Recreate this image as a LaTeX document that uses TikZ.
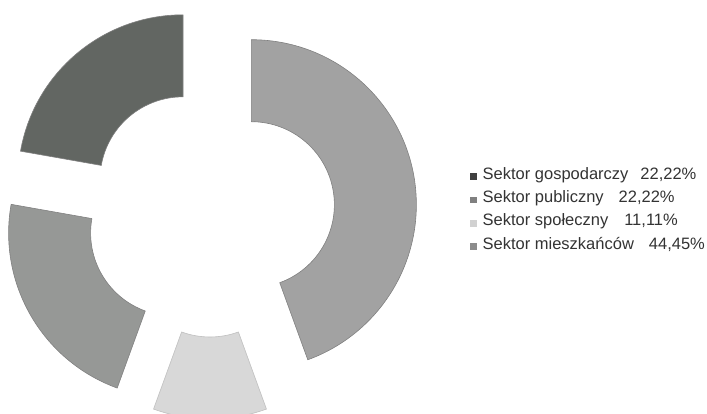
\documentclass[tikz,border=0pt]{standalone}
\usepackage{fontspec}
\setmainfont{Liberation Sans}
\usetikzlibrary{positioning}

\definecolor{gospodarczy}{RGB}{98,102,98}
\definecolor{publiczny}{RGB}{150,152,150}
\definecolor{spoleczny}{RGB}{216,216,216}
\definecolor{mieszkancow}{RGB}{162,162,162}

\begin{document}
\begin{tikzpicture}[x=1pt,y=1pt,
	seg/.style={draw=black!50,line width=0.6pt},
	key/.style={rectangle,inner sep=0pt,minimum size=6.5pt},
	lbl/.style={inner sep=0pt,font=\fontsize{16.5}{18}\selectfont,text=black!80,text height=0.73em,text depth=0.21em}
]
	\useasboundingbox (0,0) rectangle (707,414);

	% donut, every slice pushed out by 42 along its middle
	\begin{scope}[shift={(210,202)}]
		\draw[seg,fill=mieszkancow,shift={(10:42)}] (90:83) -- (90:165) arc[start angle=90,end angle=-70,radius=165] -- (-70:83) arc[start angle=-70,end angle=90,radius=83] -- cycle;
		\draw[seg,fill=spoleczny,draw=black!25,shift={(-90:42)}] (-70:83) -- (-70:165) arc[start angle=-70,end angle=-110,radius=165] -- (-110:83) arc[start angle=-110,end angle=-70,radius=83] -- cycle;
		\draw[seg,fill=publiczny,shift={(-150:42)}] (-110:83) -- (-110:165) arc[start angle=-110,end angle=-190,radius=165] -- (-190:83) arc[start angle=-190,end angle=-110,radius=83] -- cycle;
		\draw[seg,fill=gospodarczy,shift={(130:42)}] (170:83) -- (170:165) arc[start angle=170,end angle=90,radius=165] -- (90:83) arc[start angle=90,end angle=170,radius=83] -- cycle;
	\end{scope}

	% legend
	\node[key,fill=black!75] (k1) at (473.5,237.5) {};
	\node[key,fill=black!50,below=16.5pt of k1] (k2) {};
	\node[key,fill=black!18,below=16.5pt of k2] (k3) {};
	\node[key,fill=black!45,below=16.5pt of k3] (k4) {};

	\node[lbl,right=5.5pt of k1] (t1) {Sektor gospodarczy\hspace{12pt}22,22\%};
	\node[lbl,right=5.5pt of k2] (t2) {Sektor publiczny\hspace{15pt}22,22\%};
	\node[lbl,right=5.5pt of k3] (t3) {Sektor społeczny\hspace{16pt}11,11\%};
	\node[lbl,right=5.5pt of k4] (t4) {Sektor mieszkańców\hspace{15pt}44,45\%};

\end{tikzpicture}
\end{document}
